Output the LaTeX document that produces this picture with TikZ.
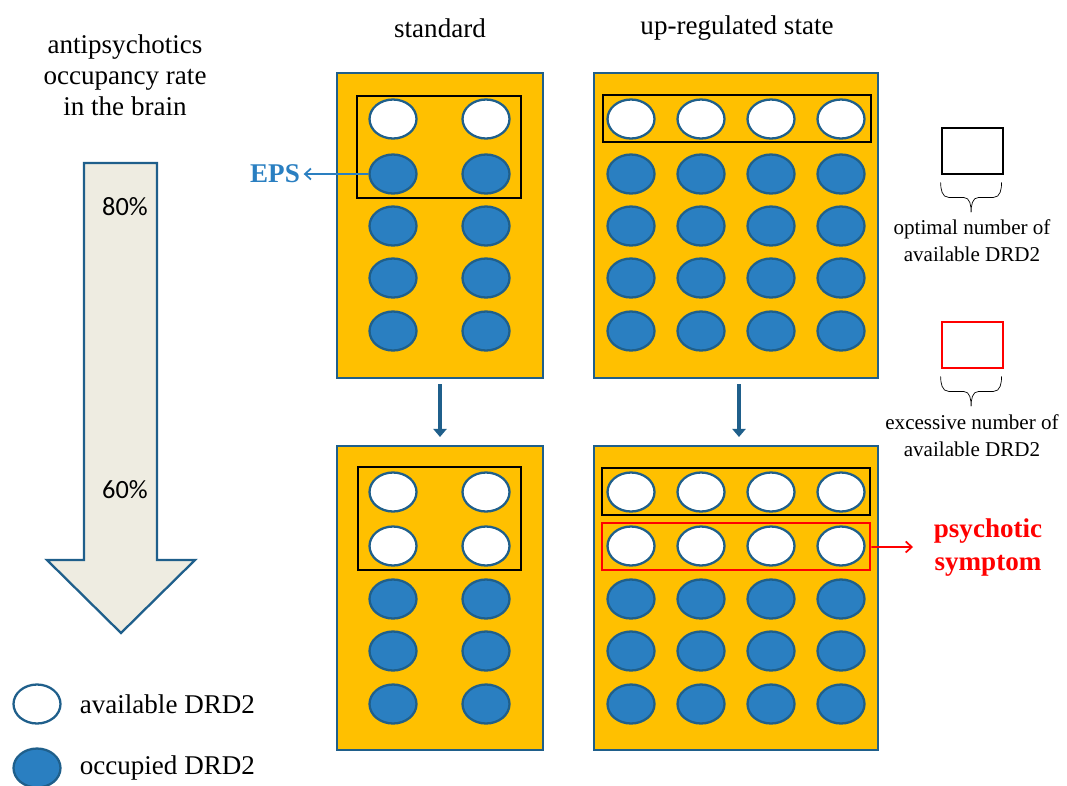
\documentclass[tikz,border=0pt]{standalone}
\usepackage{fontspec}
\setmainfont{Liberation Serif}
\newfontfamily\pctfont{Carlito}
\usetikzlibrary{shapes}
\usetikzlibrary{positioning}
\usetikzlibrary{arrows.meta}
\definecolor{gold}{HTML}{FFC000}
\definecolor{rimblue}{HTML}{1F5F8B}
\definecolor{dotblue}{HTML}{2A7FC1}
\definecolor{pale}{HTML}{EEECE1}
\tikzstyle{panel} = [rectangle, fill=gold, draw=rimblue, line width=1.2pt, inner sep=0pt]
\tikzstyle{avail} = [ellipse, fill=white, draw=rimblue, line width=1.3pt,
minimum width=0.94cm, minimum height=0.78cm, inner sep=0pt]
\tikzstyle{occup} = [avail, fill=dotblue]
\tikzstyle{optbox} = [rectangle, draw=black, line width=1.6pt, inner sep=0pt]
\tikzstyle{badbox} = [optbox, draw=red]
\tikzstyle{caption} = [font=\fontsize{15.4}{17.6}\selectfont, align=center]
\tikzstyle{note} = [font=\fontsize{12}{15.2}\selectfont, align=center]
\tikzstyle{flow} = [draw=rimblue, line width=2.4pt, -{Triangle[width=0.26cm,length=0.16cm]},
shorten <=0.1cm, shorten >=0.16cm]
\newcommand{\boxbrace}[1]{ %
  % curly brace hanging under a legend box
  \draw[thin] ([yshift=-0.14cm]#1.south west) to[out=-90,in=180] ++(8,15) -- ++(15,0)
    to[out=0,in=90] ++(7.5,15) to[out=90,in=180] ++(7.5,-15) -- ++(15,0)
    to[out=0,in=-90] ++(8,-15) ;%
}
\begin{document}
\begin{tikzpicture}[x=0.02cm, y=-0.02cm]
\useasboundingbox (0,0) rectangle (1067,785);

% occupancy arrow on the left
\node[caption] (title) at (125,75) {antipsychotics\\occupancy rate\\in the brain};
\draw[fill=pale, draw=rimblue, line width=1.3pt]
  (84,163) -- (157,163) -- (157,560) -- (195,560) -- (121,633) -- (47,560) -- (84,560) -- cycle;
\node[font=\pctfont\fontsize{15}{18}\selectfont] (p80) at (125,207) {80\%};
\node[font=\pctfont\fontsize{15}{18}\selectfont] (p60) at (125,490) {60\%};

% column headings
\node[caption] (hstd) at (440,28) {standard};
\node[caption] (hup) at (737,28) {up-regulated state};

% panels
\node[panel, minimum width=4.12cm, minimum height=6.1cm] (stdtop) at (440,225.5) {};
\node[panel, minimum width=5.68cm, minimum height=6.1cm] (uptop) at (736,225.5) {};
\node[panel, minimum width=4.12cm, minimum height=6.08cm] (stdbot) at (440,598) {};
\node[panel, minimum width=5.68cm, minimum height=6.08cm] (upbot) at (736,598) {};

\draw[flow] (stdtop) -- (stdbot);
\draw[flow] ([xshift=0.06cm]uptop.south) -- ([xshift=0.06cm]upbot.north);

% receptors, 80% occupancy
\foreach \r/\yy/\kind in {1/119/avail,2/174/occup,3/226/occup,4/278/occup,5/331/occup} {
  \foreach \c/\xx in {1/393,2/486}
    \node[\kind] (sa\r\c) at (\xx,\yy) {};
  \foreach \c/\xx in {1/631,2/701,3/771,4/841}
    \node[\kind] (ua\r\c) at (\xx,\yy) {};
}
% receptors, 60% occupancy
\foreach \r/\yy/\kind in {1/492/avail,2/546/avail,3/599/occup,4/651/occup,5/704/occup} {
  \foreach \c/\xx in {1/393,2/486}
    \node[\kind] (sb\r\c) at (\xx,\yy) {};
  \foreach \c/\xx in {1/631,2/701,3/771,4/841}
    \node[\kind] (ub\r\c) at (\xx,\yy) {};
}

\node[optbox, minimum width=3.28cm, minimum height=2.04cm] (sabox) at (439,147) {};
\node[optbox, minimum width=5.36cm, minimum height=0.94cm] (uabox) at (737,118.5) {};
\node[optbox, minimum width=3.26cm, minimum height=2.06cm] (sbbox) at (439.5,518.5) {};
\node[optbox, minimum width=5.36cm, minimum height=0.94cm] (ubbox) at (736,491.5) {};
\node[badbox, minimum width=5.36cm, minimum height=0.94cm] (badrow) at (736,546.5) {};

% side effects
\node[font=\fontsize{15.4}{18}\selectfont\bfseries, text=dotblue, inner sep=2pt] (eps) at (275,174) {EPS};
\draw[dotblue, line width=1pt, -{Straight Barb[length=0.12cm,width=0.22cm]}] (sa21) -- (eps);

\node[font=\fontsize{15.4}{18.8}\selectfont\bfseries, text=red, align=center] (psy) at (988,548) {psychotic\\symptom};
\coordinate (psytip) at (913,547);
\draw[red, line width=1pt, -{Straight Barb[length=0.12cm,width=0.22cm]}] (badrow) -- (psytip);

% box legend
\node[optbox, minimum width=1.22cm, minimum height=0.92cm] (keyopt) at (972.5,151) {};
\boxbrace{keyopt}
\node[note] (txtopt) at (972,241) {optimal number of\\available DRD2};
\node[badbox, minimum width=1.22cm, minimum height=0.92cm] (keybad) at (972.5,345) {};
\boxbrace{keybad}
\node[note] (txtbad) at (972,436) {excessive number of\\available DRD2};

% receptor legend
\node[avail] (keyavail) at (37,704) {};
\node[caption, right=0.24cm of keyavail] (txtavail) {available DRD2};
\node[occup] (keyoccup) at (37,768) {};
\node[caption, right=0.24cm of keyoccup] (txtoccup) {occupied DRD2};
\end{tikzpicture}
\end{document}
